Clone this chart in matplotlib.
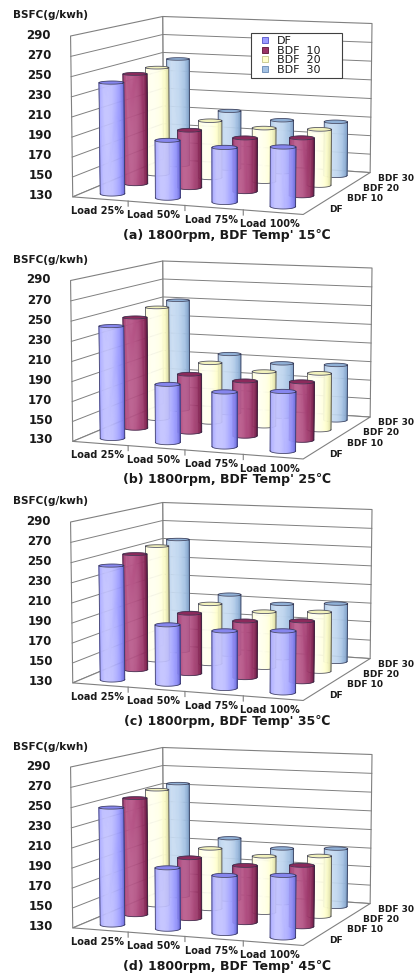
import numpy as np
import matplotlib
matplotlib.use('Agg')
import matplotlib.pyplot as plt
from matplotlib.colors import to_rgb
from matplotlib.lines import Line2D
from mpl_toolkits.mplot3d.art3d import Poly3DCollection
from mpl_toolkits.mplot3d import proj3d

# ---- data ----
loads = ['Load 25%', 'Load 50%', 'Load 75%', 'Load 100%']
fuels = ['DF', 'BDF 10', 'BDF 20', 'BDF 30']
legend_labels = ['DF', 'BDF  10', 'BDF  20', 'BDF  30']
zticks = [130, 150, 170, 190, 210, 230, 250, 270, 290]

# BSFC (g/kWh): one row per fuel, one column per load
bsfc_15 = [[242, 187.5, 184, 188],
           [244, 189, 184.5, 188],
           [244, 190.5, 186, 188],
           [247, 193, 186, 187.5]]
bsfc_25 = [[243, 188, 184, 188],
           [245, 189.5, 186, 188.5],
           [249, 193, 187, 188.5],
           [250.5, 194.5, 187.5, 189]]
bsfc_35 = [[245, 189, 186.5, 190],
           [250, 192, 187.5, 191],
           [252, 193.5, 188.5, 191.5],
           [253, 195.5, 188.5, 192]]
bsfc_45 = [[248, 191, 187, 190.5],
           [251, 192.5, 188, 191.5],
           [253.5, 194, 189, 192.5],
           [254, 197, 189, 192]]
captions = ["(a) 1800rpm, BDF Temp' 15\u2103",
            "(b) 1800rpm, BDF Temp' 25\u2103",
            "(c) 1800rpm, BDF Temp' 35\u2103",
            "(d) 1800rpm, BDF Temp' 45\u2103"]

# ---- style ----
side_dark = ['#5252c8', '#5a1033', '#c4c488', '#6688b2']
side_base = ['#9a9aff', '#993366', '#ffffcc', '#a3c1e3']
side_light = ['#c2c2ff', '#b8588a', '#fffff0', '#c8dcf2']
cap_colors = ['#8686ee', '#8c2a5c', '#f2f2bc', '#90b0d6']
outline = '#2e2e48'
wall_col = '#808080'
text_col = '#1a1a1a'

ELEV, AZIM, FOCAL = 8.18, -69.41, 0.87
BOX = np.array([4.0, 3.87, 2.67])
RADIUS = 0.205
W, H = 420, 976
panel_tops = [0, 244.5, 486, 731]
AX_LEFT, AX_SIDE, AX_TOP = 47.0, 350.9, -63.3

plt.rcParams['font.family'] = ['DejaVu Sans', 'Noto Sans CJK SC']
fig = plt.figure(figsize=(W / 100, H / 100), dpi=100)

# normalised box used by mplot3d, and the eye position in box units
bnorm = BOX * 1.8294640721620434 * 25 / 24 / np.linalg.norm(BOX)
e, a = np.deg2rad(ELEV), np.deg2rad(AZIM)
eye = 0.5 * bnorm + 10 * FOCAL * np.array([np.cos(e) * np.cos(a), np.cos(e) * np.sin(a), np.sin(e)])
mx = 4 / 48
span = 4 + 2 * mx


def to_box(x, y):
    return (x + mx) / span * bnorm[0], (y + mx) / span * bnorm[1]


def shade(t, k):
    d, b, l = (np.array(to_rgb(c)) for c in (side_dark[k], side_base[k], side_light[k]))
    if t >= 0.55:
        w = min((t - 0.55) / 0.45, 1)
        return b * (1 - w) + l * w
    w = np.clip((t + 0.35) / 0.9, 0, 1)
    return d * (1 - w) + b * w


def cylinder(ax, xc, yc, top, k, zo):
    bx, by = to_box(xc, yc)
    ang = np.arctan2(eye[1] - by, eye[0] - bx)
    rx = RADIUS
    ry = RADIUS * bnorm[0] / bnorm[1]
    phi = np.linspace(ang - np.pi / 2, ang + np.pi / 2, 37)
    px = xc + rx * np.cos(phi)
    py = yc + ry * np.sin(phi)
    polys, cols = [], []
    for n in range(len(phi) - 1):
        polys.append([(px[n], py[n], 130), (px[n + 1], py[n + 1], 130),
                      (px[n + 1], py[n + 1], top), (px[n], py[n], top)])
        psi = 0.5 * (phi[n] + phi[n + 1]) - ang
        cols.append(shade(np.cos(psi - np.deg2rad(-22)), k))
    full = np.linspace(0, 2 * np.pi, 61)
    cx = xc + rx * np.cos(full)
    cy = yc + ry * np.sin(full)
    polys.append(list(zip(cx, cy, np.full_like(cx, top))))
    cols.append(to_rgb(cap_colors[k]))
    pc = Poly3DCollection(polys, facecolors=cols, edgecolors=cols, linewidths=0.3, zorder=zo)
    pc.set_clip_on(False)
    ax.add_collection3d(pc)
    kw = dict(color=outline, lw=0.6, alpha=0.8, zorder=zo + 0.5, clip_on=False)
    ax.plot(cx, cy, np.full_like(cx, top), **kw)
    ax.plot(px, py, np.full_like(px, 130), **kw)
    for n in (0, -1):
        ax.plot([px[n], px[n]], [py[n], py[n]], [130, top], **kw)


def label3d(ax, M, x, y, z, s, **kw):
    # place a flat label at the projected spot of a 3D point
    xs, ys, _ = proj3d.proj_transform(np.array([x]), np.array([y]), np.array([z]), M)
    ax.text2D(xs[0], ys[0], s, transform=ax.transData, **kw)


def draw_panel(y0, values, caption, with_legend):
    rect = [AX_LEFT / W, (H - (y0 + AX_TOP + AX_SIDE)) / H, AX_SIDE / W, AX_SIDE / H]
    ax = fig.add_axes(rect, projection='3d', computed_zorder=False)
    ax.set_facecolor('none')
    ax.set_axis_off()
    ax.set_xlim(0, 4)
    ax.set_ylim(0, 4)
    ax.set_zlim(130, 290)
    ax.set_box_aspect(tuple(BOX))
    ax.set_proj_type('persp', focal_length=FOCAL)
    ax.view_init(elev=ELEV, azim=AZIM)
    M = ax.get_proj()

    # walls and floor
    walls = [[(0, 0, 130), (0, 4, 130), (0, 4, 290), (0, 0, 290)],
             [(0, 4, 130), (4, 4, 130), (4, 4, 290), (0, 4, 290)],
             [(0, 0, 130), (4, 0, 130), (4, 4, 130), (0, 4, 130)]]
    wc = Poly3DCollection(walls, facecolors='white', edgecolors=wall_col, linewidths=0.8, zorder=1)
    wc.set_clip_on(False)
    ax.add_collection3d(wc)
    for z in zticks[1:-1]:
        ax.plot([0, 0, 4], [0, 4, 4], [z, z, z], color=wall_col, lw=0.7, zorder=2, clip_on=False)
    for i in range(1, 4):
        ax.plot([i, i], [0, 0], [130, 125], color=wall_col, lw=0.8, zorder=2, clip_on=False)

    # cylinders, painted from the farthest to the nearest
    cells = [(i, j) for i in range(4) for j in range(4)]
    dist = []
    for i, j in cells:
        bx, by = to_box(i + 0.5, j + 0.5)
        dist.append(np.hypot(eye[0] - bx, eye[1] - by))
    order = np.argsort(dist)[::-1]
    for rank, c in enumerate(order):
        i, j = cells[c]
        cylinder(ax, i + 0.5, j + 0.5, values[j][i], j, 10 + 2 * rank)

    bold = dict(fontweight='bold', color=text_col, zorder=200)
    for z in zticks:
        label3d(ax, M, -0.36, 0, z, str(z), ha='right', va='center', fontsize=8.5, **bold)
    for i, lab in enumerate(loads):
        label3d(ax, M, i + 0.45, 0, 118, lab, ha='center', va='center', fontsize=7, **bold)
    for j, lab in enumerate(fuels):
        label3d(ax, M, 4.28, j + 0.5, 130, lab, ha='left', va='center', fontsize=6.5, **bold)

    fig.text(13 / W, 1 - (y0 + 15.5) / H, 'BSFC(g/kwh)', ha='left', va='center',
             fontsize=7.5, fontweight='bold', color=text_col)
    fig.text(227 / W, 1 - (y0 + 235.5) / H, caption, ha='center', va='center',
             fontsize=9, fontweight='bold', color=text_col)

    if with_legend:
        handles = [Line2D([], [], ls='none', marker='s', markersize=5,
                          markerfacecolor=side_base[k], markeredgecolor=side_dark[k],
                          markeredgewidth=0.6) for k in range(4)]
        leg = fig.legend(handles, legend_labels, loc='upper left',
                         bbox_to_anchor=(251 / W, 1 - (y0 + 33) / H, 91 / W, 0), mode='expand',
                         borderaxespad=0, fontsize=8, handlelength=1.9, handletextpad=0.1,
                         labelspacing=-0.05, borderpad=0.3, fancybox=False, framealpha=1,
                         edgecolor='#404040')
        leg.get_frame().set_linewidth(0.8)
        for t in leg.get_texts():
            t.set_color(text_col)
    return ax


panels = [bsfc_15, bsfc_25, bsfc_35, bsfc_45]
for p in range(4):
    draw_panel(panel_tops[p], panels[p], captions[p], p == 0)

fig.savefig('out.png', dpi=100)
